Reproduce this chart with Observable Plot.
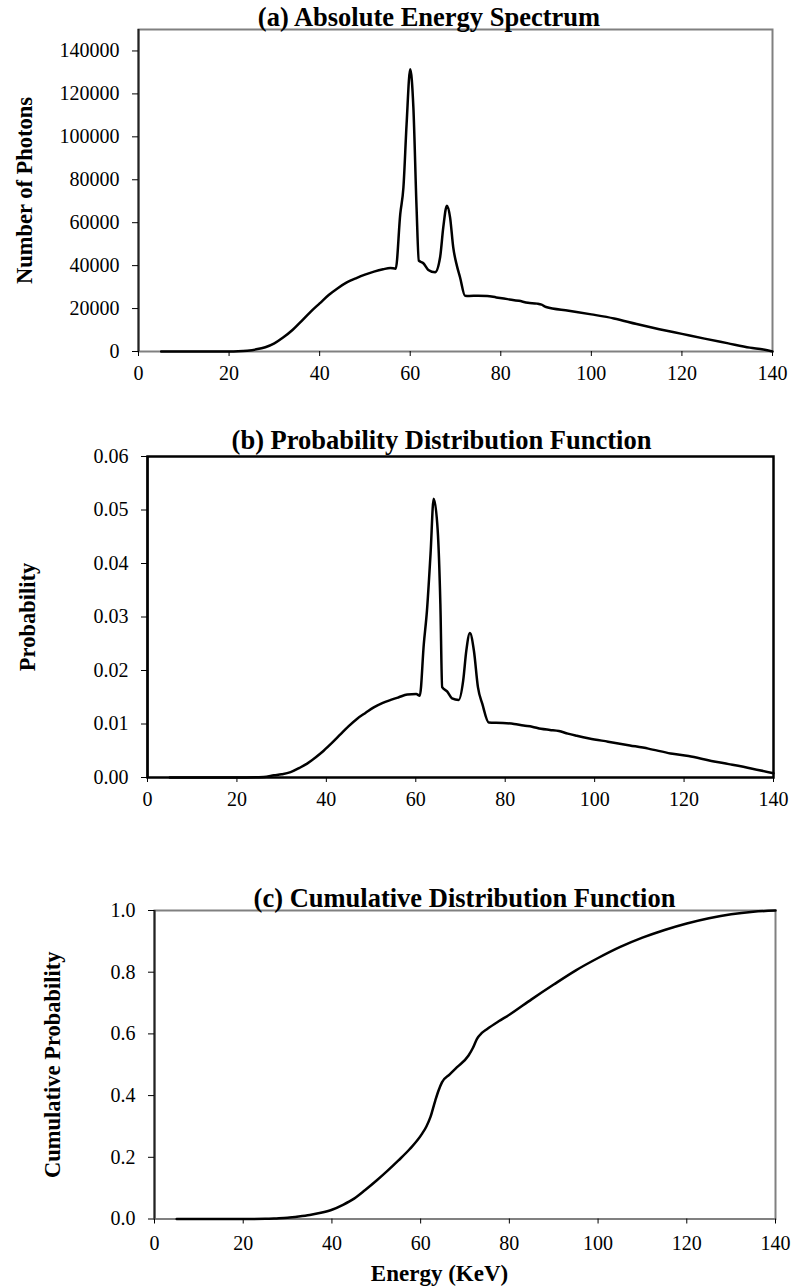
<!DOCTYPE html>
<html>
<head>
<meta charset="utf-8">
<script src="https://cdn.jsdelivr.net/npm/d3@7"></script>
<script src="https://cdn.jsdelivr.net/npm/@observablehq/plot@0.6"></script>
<style>
  html, body { margin: 0; padding: 0; background: #ffffff; }
  #wrap { position: relative; width: 792px; height: 1287px; background: #ffffff; }
  #wrap svg { position: absolute; left: 0; overflow: visible; }
  #wrap svg text { font-family: 'Liberation Serif', 'Times New Roman', Times, serif; }
</style>
</head>
<body>
<div id="wrap"></div>
<script>
// ---------- Data ----------
const xTicks = [0, 20, 40, 60, 80, 100, 120, 140];

// (a) Absolute energy spectrum
const specEnergy = [5, 10, 15, 20, 22, 24, 26, 28, 30, 32, 34, 36, 38, 40, 42, 44, 46, 48, 50, 52, 54, 55.6, 56.8,
  57.8, 58.5, 59.2, 60.0, 60.7, 61.4, 61.9, 62.9, 64.0, 65.5, 66.6, 67.3, 68.1, 68.8, 69.5, 70.3, 71.0, 72.1,
  73, 75, 77, 79, 81.5, 84, 86, 88, 89, 90, 95, 100, 105, 110, 115, 120, 125, 130, 135, 138, 140];
const specPhotons = [0, 0, 0, 0, 100, 400, 1000, 2000, 3800, 6600, 10000, 14200, 18500, 22400, 26300, 29500, 32200, 34100, 35800, 37200, 38300, 38900, 38600,
  64000, 76400, 105900, 131500, 113600, 67100, 42300, 41100, 38000, 36900, 43900, 57800, 67900, 62500, 48500, 40000, 34600, 26000,
  25900, 26000, 25900, 25200, 24400, 23600, 22700, 22300, 21800, 20700, 19000, 17300, 15400, 12800, 10400, 8200, 6000, 3900, 1800, 900, 0];
const specYTicks = [0, 20000, 40000, 60000, 80000, 100000, 120000, 140000];

// (b) Probability distribution function
const pdfEnergy = [5, 10, 20, 26, 28.3, 30, 32, 34, 35.7, 37.5, 39.4, 41.3, 43.2, 45, 46.9, 48.8, 50.6, 52.5, 54.4, 56.2, 58.1,
  60.1, 60.9, 61.8, 62.5, 63.3, 64.0, 64.9, 65.5, 65.9, 67.0, 68.1, 69.6, 70.6, 71.3, 72.1, 73.0, 73.9, 74.9, 76.3,
  79.5, 82, 84.1, 86, 88, 90, 92, 94, 96, 98.8, 103, 107.9, 112, 117, 121, 126.1, 130, 135, 140];
const pdfProb = [0, 0, 0, 0.0001, 0.0004, 0.0006, 0.0010, 0.0018, 0.0026, 0.0037, 0.0050, 0.0065, 0.0081, 0.0096, 0.0110, 0.0121, 0.0131, 0.0139, 0.0145, 0.0150, 0.0155,
  0.0156, 0.0153, 0.0250, 0.0312, 0.0418, 0.0521, 0.0462, 0.0324, 0.0169, 0.0161, 0.0148, 0.0145, 0.0181, 0.0237, 0.0270, 0.0237, 0.0169, 0.0137, 0.0103,
  0.0102, 0.0100, 0.0097, 0.0095, 0.0091, 0.0089, 0.0087, 0.0082, 0.0078, 0.0073, 0.0067, 0.0060, 0.0054, 0.0045, 0.0040, 0.0031, 0.0025, 0.0017, 0.0008];
const pdfYTicks = [0, 0.01, 0.02, 0.03, 0.04, 0.05, 0.06];

// (c) Cumulative distribution function
const cdfEnergy = [5, 10, 20, 25, 27.5, 30, 32.5, 35, 37.5, 40, 42.5, 45, 47.5, 50, 52.5, 55, 57.5, 60.3, 61.3, 62.2,
  63.3, 64.0, 64.8, 66.5, 68.2, 70.8, 71.8, 72.7, 73.8, 75.0, 77.5, 80, 85, 90, 95, 100, 105, 110, 115, 120, 125, 130, 135, 140];
const cdfProb = [0, 0, 0, 0.0005, 0.002, 0.004, 0.008, 0.013, 0.020, 0.030, 0.046, 0.066, 0.094, 0.124, 0.156, 0.190, 0.226, 0.276, 0.300, 0.330,
  0.384, 0.415, 0.443, 0.468, 0.492, 0.530, 0.555, 0.584, 0.603, 0.616, 0.640, 0.662, 0.712, 0.760, 0.806, 0.846, 0.882, 0.912, 0.937, 0.958, 0.975, 0.988, 0.996, 1.0];
const cdfYTicks = [0, 0.2, 0.4, 0.6, 0.8, 1.0];

const titles = ["(a) Absolute Energy Spectrum", "(b) Probability Distribution Function", "(c) Cumulative Distribution Function"];
const yLabels = ["Number of Photons", "Probability", "Cumulative Probability"];
const xLabel = "Energy (KeV)";

// ---------- Rendering ----------
const zip = (xs, ys) => xs.map((e, i) => ({e, v: ys[i]}));
const FONT = "'Liberation Serif', 'Times New Roman', Times, serif";

function panel(o) {
  const marks = [
    Plot.frame({stroke: o.frameColor, strokeWidth: o.frameWidth}),
    Plot.ruleX([0], {stroke: o.axisColor, strokeWidth: 2}),
    Plot.axisX({ticks: xTicks, tickSize: 5, tickPadding: o.xPad, label: null, tickFormat: d => String(d),
      stroke: "#000", fill: "#000", fontFamily: FONT, fontSize: 20}),
    Plot.axisY({ticks: o.yTicks, tickSize: 6, tickPadding: 13, label: null, tickFormat: o.yFormat,
      stroke: "#000", fill: "#000", fontFamily: FONT, fontSize: 20}),
    Plot.line(o.data, {x: "e", y: "v", stroke: "#000", strokeWidth: 2.5, curve: "monotone-x"}),
    Plot.text([o.title], {text: d => d, frameAnchor: "top", dx: o.titleDx, dy: o.titleDy, lineAnchor: "bottom",
      fontFamily: FONT, fontWeight: "bold", fontSize: 26.5, fill: "#000"}),
    Plot.text([o.ylabel], {text: d => d, frameAnchor: "left", dx: o.ylabelX - o.ml, rotate: -90, lineAnchor: "middle",
      textAnchor: "middle", fontFamily: FONT, fontWeight: "bold", fontSize: 22.5, fill: "#000", ariaLabel: "ylabel"})
  ];
  if (o.xlabel) {
    marks.push(Plot.text([o.xlabel], {text: d => d, frameAnchor: "bottom", dx: o.xlabelDx, dy: o.xlabelDy, lineAnchor: "bottom",
      fontFamily: FONT, fontWeight: "bold", fontSize: 23, fill: "#000"}));
  }
  const svg = Plot.plot({
    width: 792, height: o.height,
    marginTop: o.mt, marginBottom: o.mb, marginLeft: o.ml, marginRight: o.mr,
    style: {fontFamily: FONT, fontSize: "20px", color: "#000", background: "transparent", overflow: "visible"},
    x: {domain: [0, 140]},
    y: {domain: o.yDomain},
    marks
  });
  // the reference draws the rotated axis titles with slightly taller glyphs
  d3.select(svg).selectAll('g[aria-label="ylabel"] text').each(function () {
    const t = this.getAttribute("transform") || "";
    this.setAttribute("transform", t + " scale(1,1.22)");
  });
  svg.style.top = o.top + "px";
  return svg;
}

const wrap = document.getElementById("wrap");

wrap.appendChild(panel({
  top: 0, height: 390, mt: 29, mb: 39, ml: 138, mr: 20,
  data: zip(specEnergy, specPhotons), yDomain: [0, 150000], yTicks: specYTicks, yFormat: d => String(d),
  frameColor: "#808080", frameWidth: 2, axisColor: "#222", xPad: 9,
  title: titles[0], titleDx: -26.5, titleDy: -4,
  ylabel: yLabels[0], ylabelX: 24.5
}));

wrap.appendChild(panel({
  top: 390, height: 430, mt: 66, mb: 43, ml: 147, mr: 19,
  data: zip(pdfEnergy, pdfProb), yDomain: [0, 0.06], yTicks: pdfYTicks, yFormat: d => d.toFixed(2),
  frameColor: "#000", frameWidth: 2.5, axisColor: "#000", xPad: 9,
  title: titles[1], titleDx: -19, titleDy: -8,
  ylabel: yLabels[1], ylabelX: 27
}));

wrap.appendChild(panel({
  top: 820, height: 467, mt: 90, mb: 68.5, ml: 154, mr: 17,
  data: zip(cdfEnergy, cdfProb), yDomain: [0, 1], yTicks: cdfYTicks, yFormat: d => d.toFixed(1),
  frameColor: "#808080", frameWidth: 2, axisColor: "#222", xPad: 12,
  title: titles[2], titleDx: -0.5, titleDy: -4,
  ylabel: yLabels[2], ylabelX: 52,
  xlabel: xLabel, xlabelDx: -25.5, xlabelDy: 61.5
}));
</script>
</body>
</html>
